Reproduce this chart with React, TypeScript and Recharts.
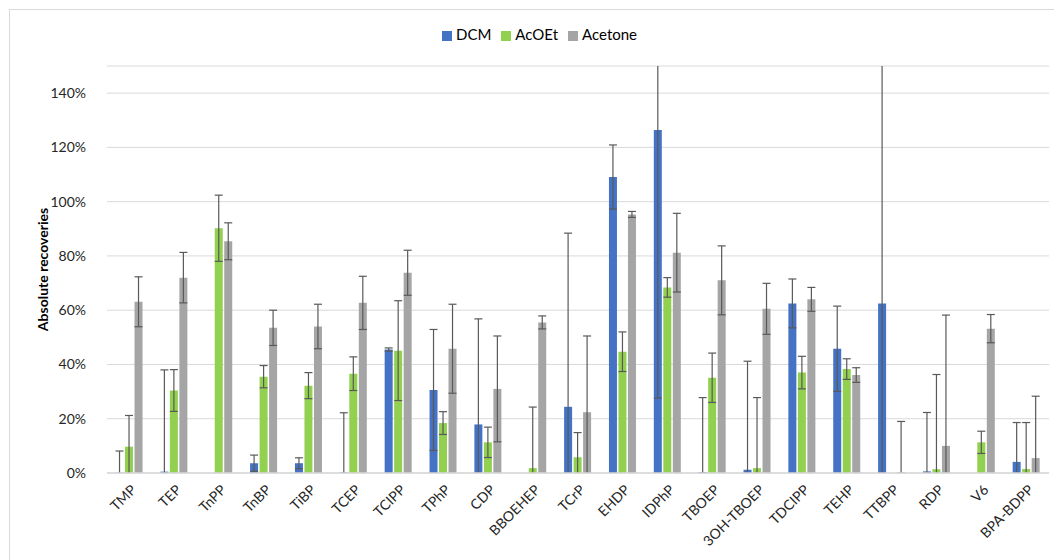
import React from "react";
import * as Recharts from "recharts";
import {
  BarChart,
  Bar,
  XAxis,
  YAxis,
  CartesianGrid,
  Legend,
  ErrorBar,
  Label,
} from "recharts";

const compounds = [
  "TMP", "TEP", "TnPP", "TnBP", "TiBP", "TCEP", "TCIPP", "TPhP", "CDP", "BBOEHEP", "TCrP",
  "EHDP", "IDPhP", "TBOEP", "3OH-TBOEP", "TDCIPP", "TEHP", "TTBPP", "RDP", "V6", "BPA-BDPP",
];

// recoveries in %
const dcm = [0.1, 0.5, 0, 3.6, 3.6, 0.2, 45.5, 30.6, 17.9, 0, 24.4, 109.1, 126.4, 0.3, 1.2, 62.5, 45.8, 62.5, 0.6, 0, 4.1];
const dcmErr = [8, 37.5, 0, 3, 2, 22, 0.6, 22.3, 38.9, 0, 64, 11.8, 98.8, 27.5, 40, 9, 15.7, 95, 21.7, 0, 14.5];

const acoet = [9.7, 30.4, 90.2, 35.5, 32.2, 36.6, 45.1, 18.4, 11.3, 1.8, 5.8, 44.7, 68.4, 35.1, 1.8, 37, 38.3, 0, 1.4, 11.3, 1.5];
const acoetErr = [11.5, 7.7, 12.2, 4.1, 4.8, 6.2, 18.4, 4.2, 5.6, 22.5, 9.1, 7.3, 3.6, 9.1, 26, 6, 3.8, 0, 34.9, 4.1, 17.1];

const acetone = [63.1, 72, 85.4, 53.5, 54, 62.7, 73.8, 45.8, 31, 55.5, 22.4, 95.3, 81.2, 71, 60.5, 64, 36.1, 0.3, 10, 53.2, 5.5];
const acetoneErr = [9.2, 9.3, 6.8, 6.5, 8.2, 9.8, 8.3, 16.4, 19.5, 2.4, 28.1, 1.1, 14.5, 12.7, 9.4, 4.4, 2.7, 18.7, 48.2, 5.2, 22.8];

const series = ["DCM", "AcOEt", "Acetone"];
const yTicks = [0, 20, 40, 60, 80, 100, 120, 140];

const data = compounds.map((name, i) => ({
  name,
  DCM: dcm[i],
  dcmErr: dcmErr[i],
  AcOEt: acoet[i],
  acoetErr: acoetErr[i],
  Acetone: acetone[i],
  acetoneErr: acetoneErr[i],
}));

const textColor = "#262626";
const errColor = "#595959";

function AngledTick({ x, y, payload }: any) {
  return (
    <g transform={`translate(${x + 5},${y + 7})`}>
      <text x={0} y={0} dy={4} textAnchor="end" transform="rotate(-45)" fill={textColor} fontSize={14}>
        {payload.value}
      </text>
    </g>
  );
}

// clip the error bars to the plot area like the bars themselves
function PlotClip() {
  const usePlotArea = (Recharts as any).usePlotArea;
  const area = usePlotArea ? usePlotArea() : null;
  if (!area) return null;
  return (
    <defs>
      <clipPath id="plot-clip">
        <rect x={area.x} y={area.y} width={area.width} height={area.height} />
      </clipPath>
    </defs>
  );
}

export default function App() {
  return (
    <div style={{ position: "absolute", left: 0, top: 0, width: 1054, height: 560, background: "#fff" }}>
      <style>{`.recharts-errorBars, .recharts-errorBar { clip-path: url(#plot-clip); }`}</style>
      <div
        style={{
          position: "absolute",
          left: 9,
          top: 9,
          width: 1100,
          height: 600,
          borderLeft: "1px solid #D9D9D9",
          borderTop: "1px solid #D9D9D9",
          pointerEvents: "none",
        }}
      />
      <BarChart
        width={1054}
        height={560}
        data={data}
        margin={{ top: 48, right: 5, bottom: 0, left: 0 }}
        barCategoryGap="19%"
        barGap={1.5}
        style={{ fontFamily: "Lato, sans-serif" }}
      >
        <PlotClip />
        <CartesianGrid vertical={false} stroke="#D9D9D9" strokeWidth={1} />
        <XAxis
          dataKey="name"
          interval={0}
          tickLine={false}
          axisLine={{ stroke: "#D9D9D9", strokeWidth: 1.5 }}
          tick={<AngledTick />}
          height={87}
        />
        <YAxis
          width={107}
          domain={[0, 150]}
          allowDataOverflow
          ticks={yTicks}
          tickFormatter={(v: number) => `${v}%`}
          axisLine={false}
          tickLine={false}
          tickMargin={15}
          tick={{ fill: textColor, fontSize: 14 }}
        >
          <Label
            content={({ viewBox }: any) => {
              const cx = viewBox.x + 42;
              const cy = viewBox.y + viewBox.height / 2;
              return (
                <text
                  x={cx}
                  y={cy}
                  transform={`rotate(-90, ${cx}, ${cy})`}
                  textAnchor="middle"
                  dominantBaseline="central"
                  fontWeight="bold"
                  fontSize={14}
                  fill="#000"
                >
                  Absolute recoveries
                </text>
              );
            }}
          />
        </YAxis>
        <Legend
          verticalAlign="top"
          align="center"
          iconType="square"
          iconSize={10}
          itemSorter={(item: any) => series.indexOf(item.value)}
          wrapperStyle={{ top: 25, left: 20, fontSize: 15 }}
          formatter={(v: string) => <span style={{ color: "#000" }}>{v}</span>}
        />
        <Bar dataKey="DCM" fill="#4472C4" isAnimationActive={false}>
          <ErrorBar dataKey="dcmErr" width={4} stroke={errColor} strokeWidth={1.2} />
        </Bar>
        <Bar dataKey="AcOEt" fill="#92D050" isAnimationActive={false}>
          <ErrorBar dataKey="acoetErr" width={4} stroke={errColor} strokeWidth={1.2} />
        </Bar>
        <Bar dataKey="Acetone" fill="#A5A5A5" isAnimationActive={false}>
          <ErrorBar dataKey="acetoneErr" width={4} stroke={errColor} strokeWidth={1.2} />
        </Bar>
      </BarChart>
    </div>
  );
}
